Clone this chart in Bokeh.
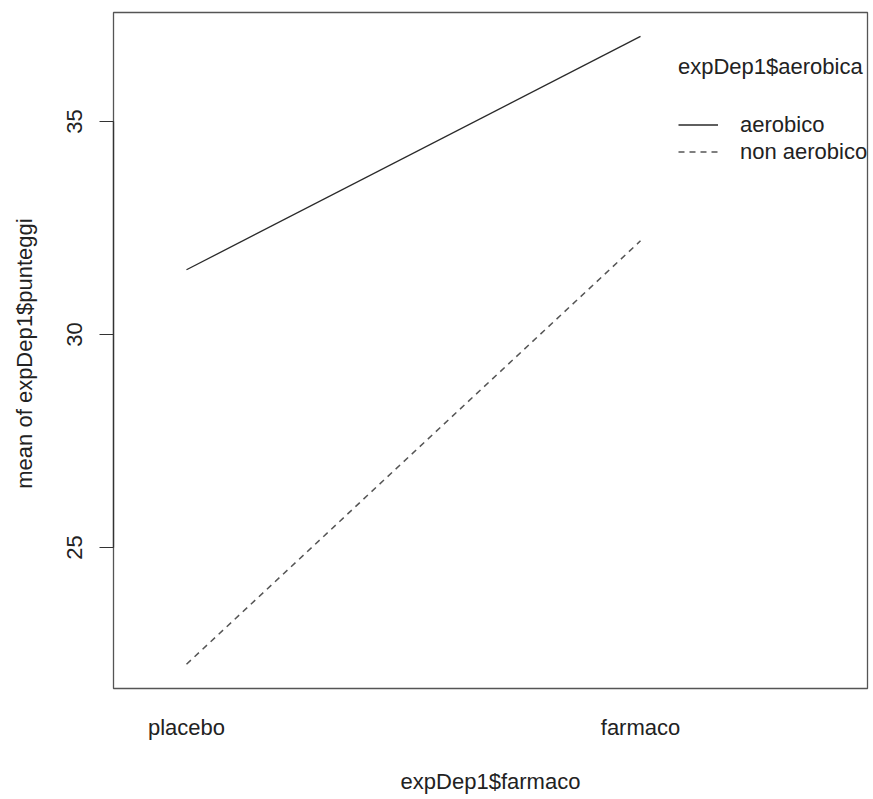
from bokeh.plotting import figure
from bokeh.models import Range1d, FixedTicker, Legend, LegendItem
from bokeh.embed import file_html
from bokeh.resources import INLINE

# ---- data ----
farmaco_levels = ["placebo", "farmaco"]
aerobica_levels = ["aerobico", "non aerobico"]
mean_aerobico = [31.52, 37.0]
mean_non_aerobico = [22.26, 32.2]
y_ticks = [25, 30, 35]

FONT = "Liberation Sans"
FS = "22px"
TXT = "#222222"

x_pos = [i + 1 for i in range(len(farmaco_levels))]

p = figure(width=873, height=799, output_backend="svg", toolbar_location=None,
           x_range=Range1d(0.8392, 2.5), y_range=Range1d(21.69, 37.56),
           min_border_left=113, min_border_right=6, min_border_top=12,
           min_border_bottom=111)
p.grid.visible = False
p.background_fill_color = "white"
p.border_fill_color = "white"
p.outline_line_color = "#555555"
p.outline_line_width = 1.3

r1 = p.line(x_pos, mean_aerobico, line_color="#2a2a2a", line_width=1.3)
r2 = p.line(x_pos, mean_non_aerobico, line_color="#555555", line_width=1.5,
            line_dash="6 5")

# y axis
ya = p.yaxis[0]
ya.ticker = FixedTicker(ticks=y_ticks)
ya.bounds = (min(y_ticks), max(y_ticks))
ya.axis_line_color = "#333333"
ya.axis_line_width = 1.3
ya.major_tick_out = 14
ya.major_tick_in = 0
ya.major_tick_line_color = "#333333"
ya.minor_tick_line_color = None
ya.major_label_orientation = "vertical"
ya.major_label_text_font = FONT
ya.major_label_text_font_size = FS
ya.major_label_text_color = TXT
ya.major_label_standoff = 17
ya.axis_label = "mean of  expDep1$punteggi"
ya.axis_label_text_font = FONT
ya.axis_label_text_font_size = FS
ya.axis_label_text_font_style = "normal"
ya.axis_label_text_color = TXT
ya.axis_label_standoff = 28

# x axis
xa = p.xaxis[0]
xa.ticker = FixedTicker(ticks=x_pos)
xa.major_label_overrides = {x: lab for x, lab in zip(x_pos, farmaco_levels)}
xa.axis_line_color = None
xa.major_tick_line_color = None
xa.minor_tick_line_color = None
xa.major_label_text_font = FONT
xa.major_label_text_font_size = FS
xa.major_label_text_color = TXT
xa.major_label_standoff = 20
xa.axis_label = "expDep1$farmaco"
xa.axis_label_text_font = FONT
xa.axis_label_text_font_size = FS
xa.axis_label_text_font_style = "normal"
xa.axis_label_text_color = TXT
xa.axis_label_standoff = 26

legend = Legend(items=[LegendItem(label=aerobica_levels[0], renderers=[r1]),
                       LegendItem(label=aerobica_levels[1], renderers=[r2])],
                title="expDep1$aerobica", location=(565, 523),
                border_line_color=None, background_fill_alpha=0,
                padding=0, margin=0, spacing=0,
                glyph_width=40, glyph_height=27, label_height=27,
                label_standoff=22,
                label_text_font=FONT, label_text_font_size=FS,
                label_text_color=TXT,
                title_text_font=FONT, title_text_font_size=FS,
                title_text_font_style="normal", title_text_color=TXT,
                title_standoff=31)
p.add_layout(legend, "center")

open("out.html", "w").write(file_html(p, INLINE))
